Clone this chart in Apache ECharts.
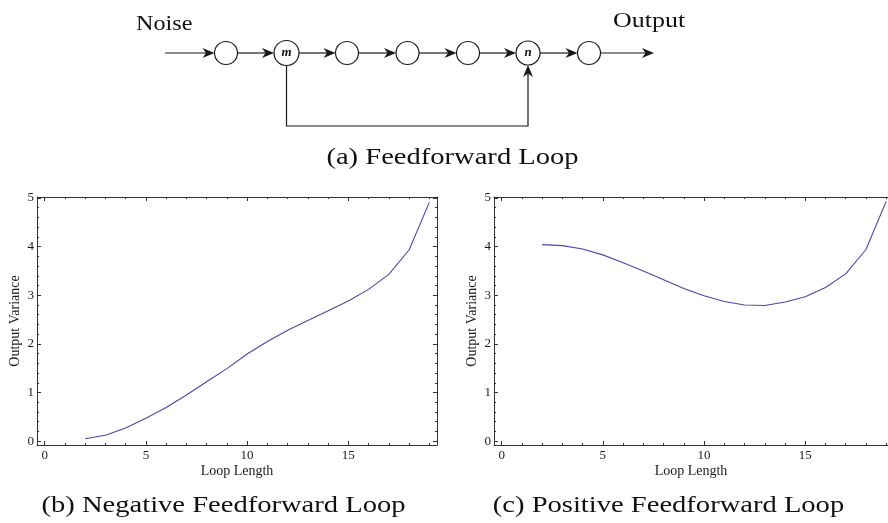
<!DOCTYPE html>
<html>
<head>
<meta charset="utf-8">
<title>Feedforward loop</title>
<script src="https://cdn.jsdelivr.net/npm/echarts@6/dist/echarts.min.js"></script>
<style>
  html, body { margin: 0; padding: 0; background: #fff; }
  #main { width: 888px; height: 523px; }
</style>
</head>
<body>
<div id="main"></div>
<script>
// loop length (x)
const loopLength = [2, 3, 4, 5, 6, 7, 8, 9, 10, 11, 12, 13, 14, 15, 16, 17, 18, 19];
// output variance, negative feedforward loop (b)
const negVariance = [0.05, 0.12, 0.27, 0.47, 0.69, 0.95, 1.22, 1.49, 1.79, 2.05, 2.28, 2.48, 2.68, 2.88, 3.12, 3.43, 3.93, 4.91];
// output variance, positive feedforward loop (c)
const posVariance = [4.04, 4.02, 3.95, 3.83, 3.67, 3.50, 3.32, 3.14, 2.99, 2.87, 2.80, 2.79, 2.86, 2.97, 3.16, 3.44, 3.94, 4.93];

const xMajorTicks = [0, 5, 10, 15];
const xMinorTicks = [1, 2, 3, 4, 6, 7, 8, 9, 11, 12, 13, 14, 16, 17, 18, 19];
const yMajorTicks = [0, 1, 2, 3, 4, 5];
const yMinorTicks = [0.2, 0.4, 0.6, 0.8, 1.2, 1.4, 1.6, 1.8, 2.2, 2.4, 2.6, 2.8,
                     3.2, 3.4, 3.6, 3.8, 4.2, 4.4, 4.6, 4.8];

const serif = 'Liberation Serif';
const frameColor = '#333';
const inkColor = '#1a1a1a';
const lineColor = '#4848a8';

// frame rectangles of the two plots; the right one runs off the page edge
const plots = [
  { left: 37, top: 197, width: 400, height: 248, xMax: 19.38, rightSide: true },
  { left: 494, top: 197, width: 394, height: 248, xMax: 19.09, rightSide: false }
];

// one grid draws frame + major ticks + labels, an overlapping one draws minor ticks
const grids = [];
plots.forEach(function (p) {
  const g = { left: p.left, top: p.top, width: p.width, height: p.height, containLabel: false };
  grids.push(g, Object.assign({}, g));
});

function xAxes(grid, ticks, len, main, xMax) {
  return ['bottom', 'top'].map(function (pos) {
    const labelled = main && pos === 'bottom';
    return {
      type: 'value', gridIndex: grid, position: pos,
      min: -0.38, max: xMax,
      name: labelled ? 'Loop Length' : '',
      nameLocation: 'middle', nameGap: 19,
      nameTextStyle: { fontFamily: serif, fontSize: 14, color: inkColor },
      axisLine: { show: main, onZero: false, lineStyle: { color: frameColor, width: 1 } },
      axisTick: { show: true, inside: true, length: len, customValues: ticks,
                  lineStyle: { color: frameColor, width: 1 } },
      axisLabel: { show: labelled, customValues: ticks, margin: 4,
                   fontFamily: serif, fontSize: 13, color: inkColor },
      splitLine: { show: false }
    };
  });
}

function yAxes(grid, ticks, len, main, rightSide) {
  return ['left', 'right'].map(function (pos) {
    const labelled = main && pos === 'left';
    const visible = pos === 'left' || rightSide;
    return {
      type: 'value', gridIndex: grid, position: pos, show: visible,
      min: -0.08, max: 5.02,
      name: labelled ? 'Output Variance' : '',
      nameLocation: 'middle', nameGap: 15, nameRotate: 90,
      nameTextStyle: { fontFamily: serif, fontSize: 14, color: inkColor },
      axisLine: { show: main && visible, onZero: false, lineStyle: { color: frameColor, width: 1 } },
      axisTick: { show: visible, inside: true, length: len, customValues: ticks,
                  lineStyle: { color: frameColor, width: 1 } },
      axisLabel: { show: labelled, customValues: ticks, margin: 3,
                   fontFamily: serif, fontSize: 13, color: inkColor },
      splitLine: { show: false }
    };
  });
}

let xAxis = [], yAxis = [];
plots.forEach(function (p, k) {
  xAxis = xAxis.concat(xAxes(2 * k, xMajorTicks, 4, true, p.xMax), xAxes(2 * k + 1, xMinorTicks, 2, false, p.xMax));
  yAxis = yAxis.concat(yAxes(2 * k, yMajorTicks, 4, true, p.rightSide), yAxes(2 * k + 1, yMinorTicks, 2, false, p.rightSide));
});

function pairs(ys) {
  return loopLength.map(function (x, i) { return [x, ys[i]]; });
}

// ---- block diagram (a) ----
function arrowRight(tx, ty) {
  return { type: 'polygon', shape: { points: [[tx, ty], [tx - 12, ty - 5], [tx - 8.5, ty], [tx - 12, ty + 5]] },
           style: { fill: inkColor } };
}
function arrowUp(tx, ty) {
  return { type: 'polygon', shape: { points: [[tx, ty], [tx - 5, ty + 12], [tx, ty + 8.5], [tx + 5, ty + 12]] },
           style: { fill: inkColor } };
}
function wire(x1, y1, x2, y2) {
  return { type: 'line', shape: { x1: x1, y1: y1, x2: x2, y2: y2 },
           style: { stroke: inkColor, lineWidth: 1.2 } };
}
function serifText(str, x, y, size, scale, align) {
  return { type: 'text', x: x, y: y, scaleX: scale,
           style: { text: str, fontFamily: serif, fontSize: size, fill: '#111',
                    textAlign: align || 'center', textVerticalAlign: 'middle',
                    align: align || 'center', verticalAlign: 'middle' } };
}

function diagram() {
  const lineY = 53;
  const nodeX = [226, 286.5, 347, 407.5, 468, 528, 589];
  const nodeR = [11.5, 12.5, 11.5, 11.5, 11.5, 12, 11.5];
  const nodeTag = ['', 'm', '', '', '', 'n', ''];
  const els = [];
  // input wire
  els.push(wire(165, lineY, nodeX[0] - nodeR[0] - 6, lineY), arrowRight(nodeX[0] - nodeR[0], lineY));
  for (let i = 0; i < nodeX.length - 1; i++) {
    const a = nodeX[i] + nodeR[i], b = nodeX[i + 1] - nodeR[i + 1];
    els.push(wire(a, lineY, b - 6, lineY), arrowRight(b, lineY));
  }
  // output wire
  const last = nodeX.length - 1;
  els.push(wire(nodeX[last] + nodeR[last], lineY, 648, lineY), arrowRight(654, lineY));
  // feedforward bypass m -> n
  els.push({ type: 'polyline',
             shape: { points: [[nodeX[1], lineY + nodeR[1]], [nodeX[1], 126], [nodeX[5], 126], [nodeX[5], lineY + nodeR[5] + 6]] },
             style: { stroke: inkColor, lineWidth: 1.2, fill: null } });
  els.push(arrowUp(nodeX[5], lineY + nodeR[5]));
  nodeX.forEach(function (x, i) {
    els.push({ type: 'circle', shape: { cx: x, cy: lineY, r: nodeR[i] },
               style: { fill: '#fff', stroke: inkColor, lineWidth: 1.2 } });
    if (nodeTag[i]) {
      els.push({ type: 'text', x: x, y: lineY,
                 style: { text: nodeTag[i], fontFamily: serif, fontSize: 13, fontStyle: 'italic', fontWeight: 'bold',
                          fill: '#111', textAlign: 'center', textVerticalAlign: 'middle',
                          align: 'center', verticalAlign: 'middle' } });
    }
  });
  els.push(serifText('Noise', 136, 24, 22, 1.1, 'left'));
  els.push(serifText('Output', 613, 21, 22, 1.18, 'left'));
  return els;
}

const captions = [
  serifText('(a) Feedforward Loop', 452.5, 158, 24, 1.19),
  serifText('(b) Negative Feedforward Loop', 223.5, 506, 24, 1.19),
  serifText('(c) Positive Feedforward Loop', 668.5, 506, 24, 1.19)
];

const chart = echarts.init(document.getElementById('main'), null, { renderer: 'canvas' });
chart.setOption({
  animation: false,
  backgroundColor: '#fff',
  grid: grids,
  xAxis: xAxis,
  yAxis: yAxis,
  series: [
    { type: 'line', name: 'Negative', xAxisIndex: 0, yAxisIndex: 0, data: pairs(negVariance),
      showSymbol: false, symbol: 'none', lineStyle: { color: lineColor, width: 1.1 } },
    { type: 'line', name: 'Positive', xAxisIndex: 4, yAxisIndex: 4, data: pairs(posVariance),
      showSymbol: false, symbol: 'none', lineStyle: { color: lineColor, width: 1.1 } }
  ],
  graphic: { elements: diagram().concat(captions) }
});
</script>
</body>
</html>
